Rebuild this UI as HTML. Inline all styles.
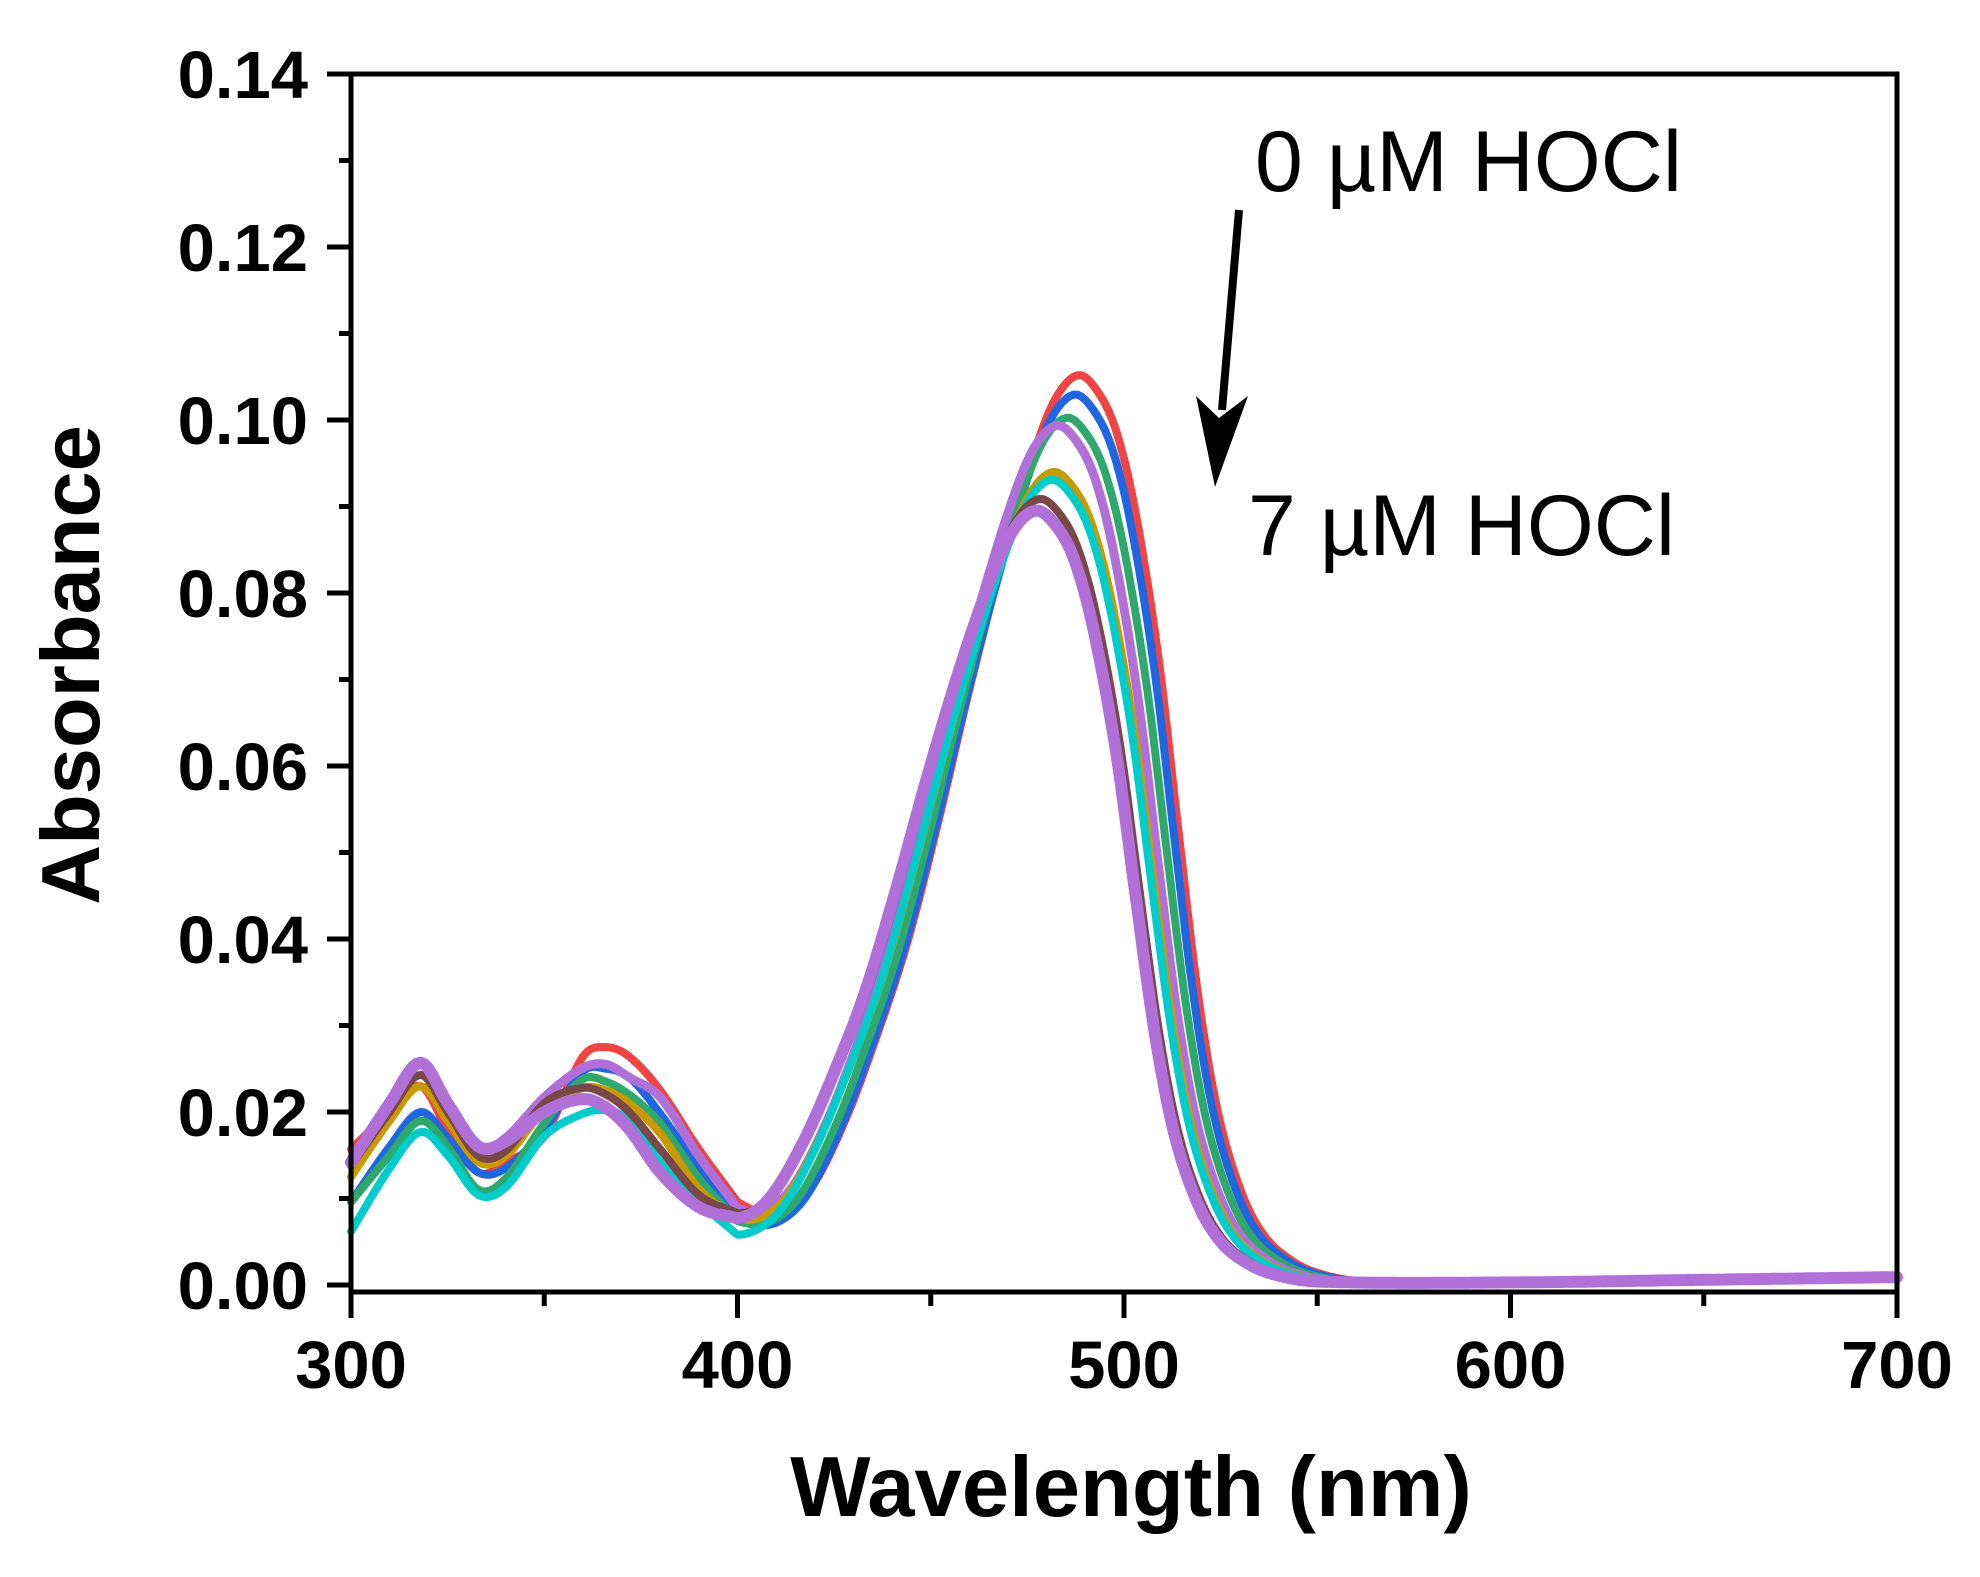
<!DOCTYPE html>
<html><head><meta charset="utf-8"><style>
html,body{margin:0;padding:0;background:#fff;}
svg{display:block;}
</style></head><body>
<svg id="s" width="1980" height="1577" viewBox="0 0 1980 1577" xmlns="http://www.w3.org/2000/svg">
<rect width="1980" height="1577" fill="#fff"/>
<g id="curves" fill="none" stroke-linejoin="round" stroke-linecap="round"></g>
<g id="axes" stroke="#000" fill="none">
<rect x="351" y="74" width="1546" height="1218" stroke-width="5"/>
</g>
<g id="ticks" stroke="#000" stroke-width="5"></g>
<g font-family="'Liberation Sans', Arial, sans-serif" font-weight="bold" font-size="67" fill="#000" id="labels"></g>
<text x="1131" y="1516" text-anchor="middle" font-family="'Liberation Sans', Arial, sans-serif" font-weight="bold" font-size="85">Wavelength (nm)</text>
<text transform="translate(99,665) rotate(-90)" text-anchor="middle" font-family="'Liberation Sans', Arial, sans-serif" font-weight="bold" font-size="83">Absorbance</text>
<text x="1255" y="191" font-family="'Liberation Sans', Arial, sans-serif" font-size="86">0 µM HOCl</text>
<text x="1248" y="555" font-family="'Liberation Sans', Arial, sans-serif" font-size="86">7 µM HOCl</text>
<line x1="1239" y1="210" x2="1222" y2="410" stroke="#000" stroke-width="8"/>
<polygon points="1196,396 1219,418 1248,396 1215,487" fill="#000"/>
</svg>
<script>
(function(){
var NS="http://www.w3.org/2000/svg";
function X(l){return 351+(l-300)*3.865;}
function Y(v){return 1285-v*8650;}
var tk=document.getElementById('ticks'),lb=document.getElementById('labels');
function line(x1,y1,x2,y2){var e=document.createElementNS(NS,'line');e.setAttribute('x1',x1);e.setAttribute('y1',y1);e.setAttribute('x2',x2);e.setAttribute('y2',y2);tk.appendChild(e);}
function txt(x,y,s,a){var e=document.createElementNS(NS,'text');e.setAttribute('x',x);e.setAttribute('y',y);e.setAttribute('text-anchor',a);e.textContent=s;lb.appendChild(e);}
for(var i=0;i<=14;i++){var y=Y(i*0.01);if(i%2==0){line(327,y,351,y);txt(308,y+24,(i/100).toFixed(2),'end');}else line(339,y,351,y);}
for(var l=300;l<=700;l+=50){var x=X(l);if(l%100==0){line(x,1292,x,1318);txt(x,1388,String(l),'middle');}else line(x,1292,x,1306);}
var M=[[250,0],[300,0],[360,0.001],[380,0.002],[390,0.003],[400,0.0045],[408,0.008],[417,0.0155],[425,0.024],[433,0.0335],[441,0.0455],[449,0.0585],[457,0.0705],[465,0.081],[471,0.087],[477,0.0895],[482,0.088],[487,0.084],[492,0.076],[498,0.0615],[503,0.045],[508,0.029],[513,0.0175],[519,0.0095],[525,0.005],[532,0.0025],[539,0.0012],[550,0.0004],[600,0.0003],[650,0.0006],[720,0.001],[760,0.001]];
function interp(t,l){
 if(l<=t[0][0])return t[0][1];
 for(var k=1;k<t.length;k++){if(l<=t[k][0]){
  var p0=t[Math.max(k-2,0)],p1=t[k-1],p2=t[k],p3=t[Math.min(k+1,t.length-1)];
  var h=p2[0]-p1[0],f=(l-p1[0])/h;
  var m1=(p2[1]-p0[1])/(p2[0]-p0[0]||1)*h, m2=(p3[1]-p1[1])/(p3[0]-p1[0]||1)*h;
  var f2=f*f,f3=f2*f;
  return (2*f3-3*f2+1)*p1[1]+(f3-2*f2+f)*m1+(-2*f3+3*f2)*p2[1]+(f3-f2)*m2;}}
 return t[t.length-1][1];}
var L=[300,310,318,325,333,340,350,360,366,372,380,390,400];
var S=[
 ['#f04343',8,11,1.175,[0.0157,0.020,0.023,0.018,0.013,0.0142,0.0172,0.0264,0.0275,0.0264,0.0225,0.0157,0.0096]],
 ['#1f66e0',8,10,1.15,[0.0096,0.016,0.020,0.017,0.013,0.0135,0.018,0.0247,0.025,0.024,0.0198,0.0134,0.0074]],
 ['#2fa86c',8,8,1.12,[0.0096,0.015,0.019,0.016,0.011,0.0123,0.0187,0.0238,0.0235,0.022,0.0187,0.0123,0.0074]],
 ['#b070d8',9,5.5,1.11,[0.0142,0.021,0.0257,0.021,0.0158,0.017,0.0217,0.0251,0.0255,0.024,0.0217,0.0149,0.0089]],
 ['#c99a00',8,4.5,1.05,[0.0125,0.019,0.023,0.019,0.0142,0.0149,0.0202,0.0228,0.0225,0.021,0.0175,0.0111,0.0077]],
 ['#00cccc',8,4,1.04,[0.0062,0.0135,0.0177,0.015,0.0104,0.0113,0.0172,0.0198,0.0202,0.019,0.0142,0.0096,0.0058]],
 ['#7a4848',8,1,1.015,[0.0138,0.020,0.0243,0.020,0.0149,0.0155,0.021,0.0228,0.022,0.020,0.0157,0.0104,0.0083]],
 ['#b070d8',12,0,1.0,[0.0142,0.021,0.0257,0.021,0.016,0.0166,0.020,0.0215,0.0205,0.018,0.013,0.009,0.0077]]
];
var g=document.getElementById('curves');
S.forEach(function(s){
 var uv=L.map(function(l,i){return [l,s[4][i]];});
 var d0=s[4][12]-s[3]*interp(M,400-s[2]);
 var p='';
 for(var l=300;l<=700;l+=1){
  var v;
  if(l<=400)v=interp(uv,l);
  else v=s[3]*interp(M,l-s[2])+d0*Math.exp(-(l-400)/15);
  p+=(l==300?'M':'L')+X(l).toFixed(1)+','+Y(v).toFixed(1);
 }
 var e=document.createElementNS(NS,'path');e.setAttribute('d',p);e.setAttribute('stroke',s[0]);e.setAttribute('stroke-width',s[1]);g.appendChild(e);
});
})();
</script>
</body></html>
